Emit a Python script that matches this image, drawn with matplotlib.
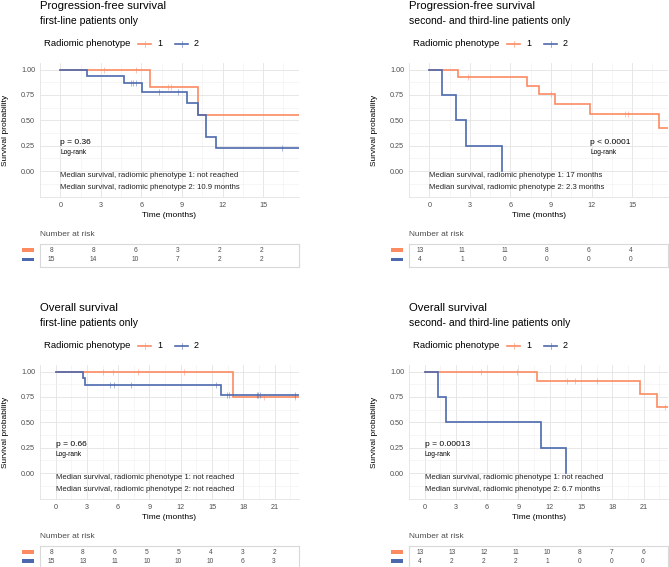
import matplotlib
matplotlib.use("Agg")
import matplotlib.pyplot as plt
import numpy as np

plt.rcParams['font.family'] = ['Liberation Sans', 'DejaVu Sans']

W, H = 669, 567
ORANGE = "#FC8B62"
BLUE = "#4D69AE"
GREY = "#4d4d4d"

# ---------------- data ----------------
titles = ["Progression-free survival", "Progression-free survival",
          "Overall survival", "Overall survival"]
subtitles = ["first-line patients only", "second- and third-line patients only",
             "first-line patients only", "second- and third-line patients only"]
pvalues = ["p = 0.36", "p < 0.0001", "p = 0.66", "p = 0.00013"]
medians_g1 = ["not reached", "17 months", "not reached", "not reached"]
medians_g2 = ["10.9 months", "2.3 months", "not reached", "6.7 months"]

# step curves: event times and survival after each step
pfs1_g1_t = [0, 6.6, 10.2]
pfs1_g1_s = [1.0, 0.833, 0.556]
pfs1_g1_c = [3.26, 5.6, 7.95, 8.2]
pfs1_g1_end = 18.0
pfs1_g2_t = [0, 2.0, 4.7, 6.07, 9.4, 10.2, 10.8, 11.5]
pfs1_g2_s = [1.0, 0.933, 0.867, 0.78, 0.669, 0.557, 0.334, 0.223]
pfs1_g2_c = [5.2, 5.4, 5.6, 7.3, 8.7, 16.4]
pfs1_g2_end = 18.0

pfs2_g1_t = [0, 2.09, 7.24, 8.13, 9.28, 11.9, 16.95]
pfs2_g1_s = [1.0, 0.923, 0.839, 0.755, 0.661, 0.566, 0.425]
pfs2_g1_c = [2.88, 8.97, 14.5, 14.7]
pfs2_g1_end = 18.0
pfs2_g2_t = [0, 0.93, 2.01, 2.73, 5.4]
pfs2_g2_s = [1.0, 0.75, 0.5, 0.25, 0.0]
pfs2_g2_c = []
pfs2_g2_end = 5.4

os1_g1_t = [0, 17.06]
os1_g1_s = [1.0, 0.75]
os1_g1_c = [4.55, 5.55, 7.9, 12.3, 20.0, 23.0]
os1_g1_end = 24.0
os1_g2_t = [0, 2.63, 2.82, 15.9]
os1_g2_s = [1.0, 0.933, 0.867, 0.770]
os1_g2_c = [5.17, 5.64, 7.27, 15.4, 16.4, 16.6, 19.3, 19.45, 19.6, 23.0]
os1_g2_end = 24.0

os2_g1_t = [0, 10.8, 20.66, 22.3]
os2_g1_s = [1.0, 0.909, 0.779, 0.649]
os2_g1_c = [5.37, 8.9, 13.65, 14.4, 16.5, 23.1]
os2_g1_end = 24.0
os2_g2_t = [0, 1.33, 2.02, 11.2, 13.6]
os2_g2_s = [1.0, 0.75, 0.5, 0.25, 0.0]
os2_g2_c = []
os2_g2_end = 13.6

# numbers at risk
pfs_risk_times = [0, 3, 6, 9, 12, 15]
os_risk_times = [0, 3, 6, 9, 12, 15, 18, 21]
pfs1_risk_g1 = [8, 8, 6, 3, 2, 2]
pfs1_risk_g2 = [15, 14, 10, 7, 2, 2]
pfs2_risk_g1 = [13, 11, 11, 8, 6, 4]
pfs2_risk_g2 = [4, 1, 0, 0, 0, 0]
os1_risk_g1 = [8, 8, 6, 5, 5, 4, 3, 2]
os1_risk_g2 = [15, 13, 11, 10, 10, 10, 6, 3]
os2_risk_g1 = [13, 13, 12, 11, 10, 8, 7, 6]
os2_risk_g2 = [4, 2, 2, 2, 1, 0, 0, 0]

panels = [
    dict(curves=[(pfs1_g1_t, pfs1_g1_s, pfs1_g1_c, pfs1_g1_end),
                 (pfs1_g2_t, pfs1_g2_s, pfs1_g2_c, pfs1_g2_end)],
         risk=(pfs_risk_times, pfs1_risk_g1, pfs1_risk_g2),
         x0=40, y0=0, xlim=(-0.8, 17.65), xt=pfs_risk_times, ptx=0),
    dict(curves=[(pfs2_g1_t, pfs2_g1_s, pfs2_g1_c, pfs2_g1_end),
                 (pfs2_g2_t, pfs2_g2_s, pfs2_g2_c, pfs2_g2_end)],
         risk=(pfs_risk_times, pfs2_risk_g1, pfs2_risk_g2),
         x0=409, y0=0, xlim=(-0.8, 17.65), xt=pfs_risk_times, ptx=11.9),
    dict(curves=[(os1_g1_t, os1_g1_s, os1_g1_c, os1_g1_end),
                 (os1_g2_t, os1_g2_s, os1_g2_c, os1_g2_end)],
         risk=(os_risk_times, os1_risk_g1, os1_risk_g2),
         x0=40, y0=302, xlim=(-1.05, 23.35), xt=os_risk_times, ptx=0),
    dict(curves=[(os2_g1_t, os2_g1_s, os2_g1_c, os2_g1_end),
                 (os2_g2_t, os2_g2_s, os2_g2_c, os2_g2_end)],
         risk=(os_risk_times, os2_risk_g1, os2_risk_g2),
         x0=409, y0=302, xlim=(-1.05, 23.35), xt=os_risk_times, ptx=0),
]

fig = plt.figure(figsize=(W / 100, H / 100), dpi=100)


def add_ax(l, t, r, b):
    return fig.add_axes([l / W, 1 - b / H, (r - l) / W, (b - t) / H])


def ftext(x, y, s, **kw):
    fig.text(x / W, 1 - y / H, s, **kw)


def surv_at(t, s, x):
    i = np.searchsorted(np.asarray(t), x, side='right') - 1
    return s[max(i, 0)]


colors = [ORANGE, BLUE]
for k, p in enumerate(panels):
    x0, y0 = p['x0'], p['y0']
    left, right = x0, x0 + 259
    # titles
    ftext(left, y0 + 6, titles[k], fontsize=8.2, color='black', va='center')
    ftext(left, y0 + 20.5, subtitles[k], fontsize=7.5, color='black', va='center')
    # legend
    ly = y0 + 43.5
    ftext(left + 4, ly, "Radiomic phenotype", fontsize=6.8, color='black', va='center')
    for j, (sx, lab) in enumerate([(98, "1"), (135, "2")]):
        fig.add_artist(plt.Line2D([(left + sx) / W, (left + sx + 13) / W],
                                  [1 - ly / H, 1 - ly / H], color=colors[j], lw=1.2))
        fig.add_artist(plt.Line2D([(left + sx + 6.5) / W] * 2,
                                  [1 - (ly - 3) / H, 1 - (ly + 3) / H],
                                  color=colors[j], lw=0.6, alpha=0.6))
        ftext(left + sx + 19, ly, lab, fontsize=6.5, color='black', va='center')

    # main axes
    ax = add_ax(left, y0 + 63, right, y0 + 197)
    ax.set_xlim(*p['xlim'])
    ax.set_ylim(-0.255, 1.065)
    xt = p['xt']
    ax.set_xticks(xt)
    ax.set_xticks([v + 1.5 for v in [-3] + xt], minor=True)
    ax.set_yticks([0, 0.25, 0.5, 0.75, 1.0])
    ax.set_yticklabels(["0.00", "0.25", "0.50", "0.75", "1.00"])
    ax.set_yticks([-0.125, 0.125, 0.375, 0.625, 0.875], minor=True)
    ax.grid(which='major', color='#e3e3e3', lw=0.6)
    ax.grid(which='minor', color='#f0f0f0', lw=0.4)
    ax.set_axisbelow(True)
    ax.tick_params(which='both', length=0, labelsize=5.2, labelcolor=GREY, pad=3.5)
    for sp in ax.spines.values():
        sp.set_visible(False)
    for side in ('bottom', 'left'):
        ax.spines[side].set_visible(True)
        ax.spines[side].set_color('#e3e3e3')
        ax.spines[side].set_linewidth(0.6)
    ax.set_xlabel("Time (months)", fontsize=6, color='black', labelpad=2.5)
    ax.set_ylabel("Survival probability", fontsize=6, color='black', labelpad=8.5)

    for j, (t, s, c, end) in enumerate(p['curves']):
        xs = list(t) + [end]
        ys = list(s) + [s[-1]]
        ax.step(xs, ys, where='post', color=colors[j], lw=1.2, solid_joinstyle='miter')
        if c:
            cy = [surv_at(t, s, v) for v in c]
            ax.plot(c, cy, ls='none', marker='|', ms=5, mew=0.6,
                    color=colors[j], alpha=0.55)

    ax.text(p['ptx'], 0.28, pvalues[k], fontsize=6, color='black', va='center')
    ax.text(p['ptx'], 0.185, "Log-rank", fontsize=4.8, color='black', va='center')
    ax.text(0, -0.045, "Median survival, radiomic phenotype 1: " + medians_g1[k],
            fontsize=5.6, color='#222222', va='center')
    ax.text(0, -0.16, "Median survival, radiomic phenotype 2: " + medians_g2[k],
            fontsize=5.6, color='#222222', va='center')

    # risk table
    ftext(left, y0 + 235, "Number at risk", fontsize=6, color=GREY, va='center')
    rax = add_ax(left, y0 + 244, right, y0 + 267)
    rax.set_xlim(*p['xlim'])
    rax.set_ylim(0, 1)
    rax.set_xticks([])
    rax.set_yticks([])
    for sp in rax.spines.values():
        sp.set_color('#d9d9d9')
        sp.set_linewidth(0.8)
    rt, r1, r2 = p['risk']
    for tt, n1, n2 in zip(rt, r1, r2):
        rax.text(tt, 0.73, str(n1), fontsize=4.8, color=GREY, ha='center', va='center')
        rax.text(tt, 0.33, str(n2), fontsize=4.8, color=GREY, ha='center', va='center')
    for j, yy in enumerate([250, 259.3]):
        fig.add_artist(plt.Rectangle(((left - 18) / W, 1 - (y0 + yy + 1.8) / H),
                                     12 / W, 3.6 / H, color=colors[j], lw=0))

fig.savefig("out.png", dpi=100)
